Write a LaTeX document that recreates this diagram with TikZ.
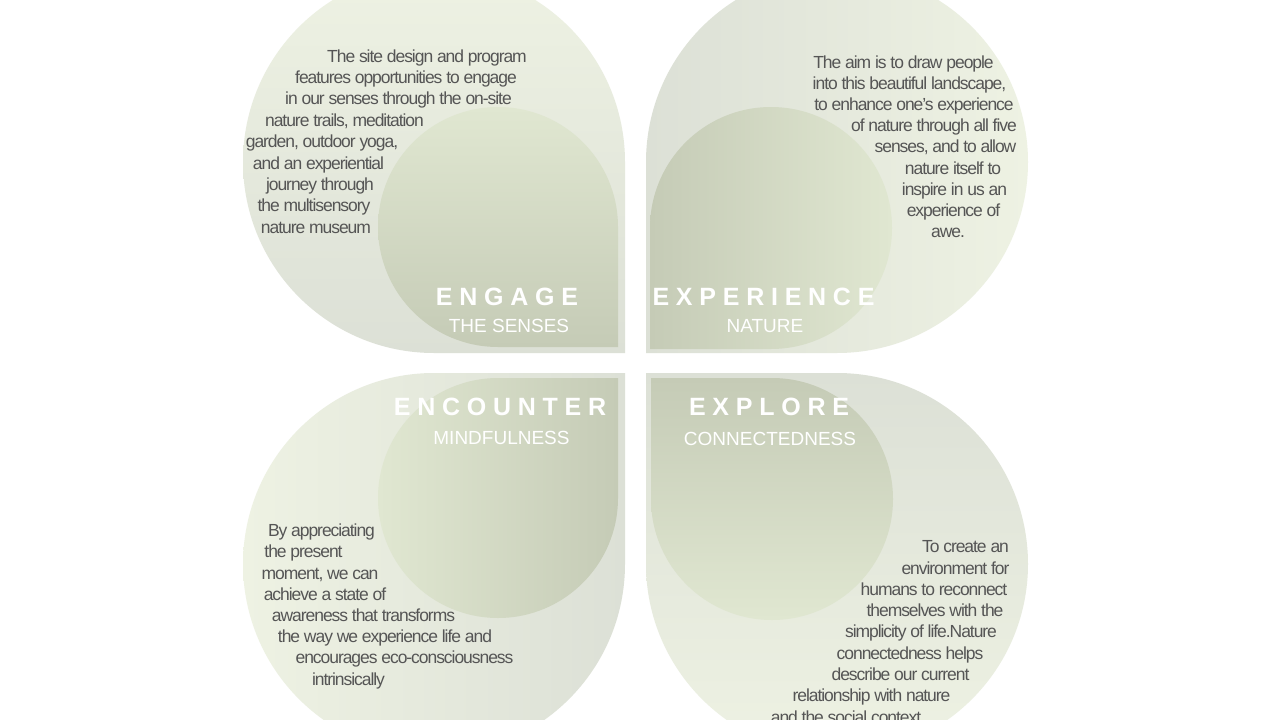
\documentclass[tikz,border=0pt]{standalone}
\usepackage{fontspec}
\setmainfont{Liberation Sans}
\newfontfamily\bodyfont{Liberation Sans}[LetterSpace=-6]
\newfontfamily\titlefont{Liberation Sans}[LetterSpace=27]
\definecolor{bigpale}{HTML}{EEF2E3}
\definecolor{biggray}{HTML}{DCE0D6}
\definecolor{smallpale}{HTML}{E0E7D1}
\definecolor{smalldark}{HTML}{C5CBB6}
\definecolor{bodygray}{HTML}{555555}

\begin{document}
\begin{tikzpicture}[x=1pt,y=-1pt,
    body/.style={anchor=base,inner sep=0pt,text=bodygray,font=\bodyfont\fontsize{17.5}{21}\selectfont},
    title/.style={anchor=base,inner sep=0pt,xshift=-2pt,text=white,font=\titlefont\bfseries\fontsize{25}{30}\selectfont},
    sub/.style={anchor=base,inner sep=0pt,text=white,font=\fontsize{19}{23}\selectfont}]
    \fill[white] (0,0) rectangle (1280,720);
    \useasboundingbox (0,0) rectangle (1280,720);
    \clip (0,0) rectangle (1280,720);

    % big leaves
    \shade[top color=bigpale,bottom color=biggray] (625,162) -- (625,353) -- (434,353) arc[start angle=90,end angle=360,radius=191] -- cycle;
    \shade[left color=biggray,right color=bigpale] (837,353) -- (646,353) -- (646,162) arc[start angle=180,end angle=450,radius=191] -- cycle;
    \shade[left color=bigpale,right color=biggray] (434,373) -- (625,373) -- (625,564) arc[start angle=0,end angle=270,radius=191] -- cycle;
    \shade[top color=biggray,bottom color=bigpale] (646,564) -- (646,373) -- (837,373) arc[start angle=270,end angle=540,radius=191] -- cycle;

    % small leaves
    \shade[top color=smallpale,bottom color=smalldark] (618,227) -- (618,347) -- (498,347) arc[start angle=90,end angle=360,radius=120] -- cycle;
    \shade[left color=smalldark,right color=smallpale] (771,349) -- (650,349) -- (650,228) arc[start angle=180,end angle=450,radius=121] -- cycle;
    \shade[left color=smallpale,right color=smalldark] (498,378) -- (618,378) -- (618,498) arc[start angle=0,end angle=270,radius=120] -- cycle;
    \shade[top color=smalldark,bottom color=smallpale] (651,499) -- (651,378) -- (772,378) arc[start angle=270,end angle=540,radius=121] -- cycle;

    % texts
    \foreach \x/\t [count=\i from 0] in {427/The site design and program,
        406/features opportunities to engage, 398.5/in our senses through the on-site,
        {344.5/nature trails, meditation}, {322/garden, outdoor yoga,},
        318.5/and an experiential, 320/journey through, 314/the multisensory,
        316/nature museum}
      \node[body] (tl\i) at (\x,62+21.4*\i) {\t};
    \foreach \x/\t [count=\i from 0] in {903.5/The aim is to draw people,
        {909.5/into this beautiful landscape,}, 914/to enhance one’s experience,
        934/of nature through all five, {945.5/senses, and to allow},
        953/nature itself to, 954.5/inspire in us an, 953.5/experience of, 948/awe.}
      \node[body] (tr\i) at (\x,68+21.2*\i) {\t};
    \foreach \x/\t [count=\i from 0] in {321.5/By appreciating, 303.5/the present,
        {320/moment, we can}, 325/achieve a state of, 363.5/awareness that transforms,
        385/the way we experience life and, 404.5/encourages eco-consciousness,
        348.5/intrinsically}
      \node[body] (bl\i) at (\x,536.7+21.2*\i) {\t};
    \foreach \x/\t [count=\i from 0] in {965.5/To create an, 955.5/environment for,
        934/humans to reconnect, 935/themselves with the, 921/simplicity of life.Nature,
        910/connectedness helps, 900.5/describe our current,
        871.5/relationship with nature, 846/and the social context}
      \node[body] (br\i) at (\x,552.7+21.3*\i) {\t};

    \node[title] (engage) at (509,305) {ENGAGE};
    \node[sub] (senses) at (509,332) {THE SENSES};
    \node[title] (experience) at (765.5,305) {EXPERIENCE};
    \node[sub] (nature) at (765,332) {NATURE};
    \node[title] (encounter) at (502,415) {ENCOUNTER};
    \node[sub] (mindful) at (501.5,444) {MINDFULNESS};
    \node[title] (explore) at (771,415) {EXPLORE};
    \node[sub] (connected) at (770,445) {CONNECTEDNESS};
\end{tikzpicture}
\end{document}
